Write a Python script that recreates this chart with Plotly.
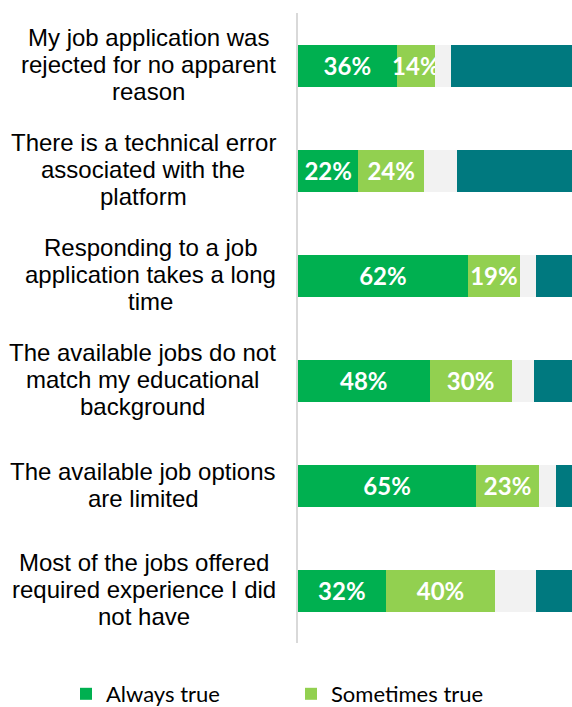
import plotly.graph_objects as go

categories = [
    "My job application was<br>rejected for no apparent<br>reason",
    "There is a technical error<br>associated with the<br>platform",
    "Responding to a job<br>application takes a long<br>time",
    "The available jobs do not<br>match my educational<br>background",
    "The available job options<br>are limited",
    "Most of the jobs offered<br>required experience I did<br>not have",
]
always_true = [36, 22, 62, 48, 65, 32]
sometimes_true = [14, 24, 19, 30, 23, 40]
dont_know = [6, 12, 6, 8, 6, 15]
never_true = [44, 42, 13, 14, 6, 13]

series_names = ["Always true", "Sometimes true", "Don't know", "Never true"]
colors = ["#00B050", "#92D050", "#F2F2F2", "#00797F"]

# Arial / Liberation Sans advance widths (per 1000 em)
AW = {
    'a': 556, 'b': 556, 'c': 500, 'd': 556, 'e': 556, 'f': 278, 'g': 556, 'h': 556,
    'i': 222, 'j': 222, 'k': 500, 'l': 222, 'm': 833, 'n': 556, 'o': 556, 'p': 556,
    'q': 556, 'r': 333, 's': 500, 't': 278, 'u': 556, 'v': 500, 'w': 722, 'x': 500,
    'y': 500, 'z': 500, ' ': 278, 'T': 611, 'M': 833, 'R': 722, 'I': 278,
}
LABEL_SIZE = 24
LINE_STEP = 27
LABEL_RIGHT = 276
L_MARGIN = 298
T_MARGIN = 13
B_MARGIN = 64
W, H = 572, 707
PLOT_W = W - L_MARGIN
PLOT_H = H - T_MARGIN - B_MARGIN


def text_width(s, size):
    return sum(AW.get(ch, 556) for ch in s) * size / 1000.0


fig = go.Figure()
vals = [always_true, sometimes_true, dont_know, never_true]
for i, (name, v, c) in enumerate(zip(series_names, vals, colors)):
    labeled = i < 2
    fig.add_trace(go.Bar(
        y=categories, x=v, name=name, orientation="h",
        marker=dict(color=c, line=dict(width=0)),
        text=[f"{x}%" for x in v] if labeled else None,
        texttemplate="%{text}" if labeled else None,
        textposition="inside" if labeled else "none",
        insidetextanchor="middle",
        textangle=0,
        constraintext="none",
        textfont=dict(family="Lato", size=24, color="white", weight="bold"),
        showlegend=labeled,
        hoverinfo="skip",
    ))

annotations = []
for cat in categories:
    lines = cat.split("<br>")
    maxw = max(text_width(l, LABEL_SIZE) for l in lines)
    cx = LABEL_RIGHT - maxw / 2.0
    n = len(lines)
    for k, line in enumerate(lines):
        annotations.append(dict(
            xref="paper", x=0, xshift=cx - L_MARGIN,
            yref="y", y=cat, yshift=-(k - (n - 1) / 2.0) * LINE_STEP + 1,
            text=line, showarrow=False, xanchor="center", yanchor="middle",
            font=dict(family="Liberation Sans, Arial", size=LABEL_SIZE, color="#000000"),
        ))

fig.update_layout(
    width=W, height=H,
    margin=dict(l=L_MARGIN, r=0, t=T_MARGIN, b=B_MARGIN, autoexpand=False),
    barmode="stack", bargap=0.6,
    plot_bgcolor="white", paper_bgcolor="white",
    xaxis=dict(range=[0, 100], showgrid=False, zeroline=False, showticklabels=False,
               showline=False, fixedrange=True),
    yaxis=dict(autorange="reversed", showticklabels=False, showgrid=False,
               showline=True, linecolor="#D9D9D9", linewidth=2, ticks="",
               fixedrange=True),
    uniformtext=dict(minsize=24, mode="show"),
    showlegend=True,
    legend=dict(orientation="h", xref="paper", yref="paper",
                x=(66 - L_MARGIN) / PLOT_W, xanchor="left",
                y=-(694 - (H - B_MARGIN)) / PLOT_H, yanchor="middle",
                entrywidth=180, entrywidthmode="pixels",
                font=dict(family="Lato", size=22, color="#000000"),
                itemsizing="constant", traceorder="normal"),
    annotations=annotations,
)

fig.write_html("out.html", config={"displayModeBar": False})
